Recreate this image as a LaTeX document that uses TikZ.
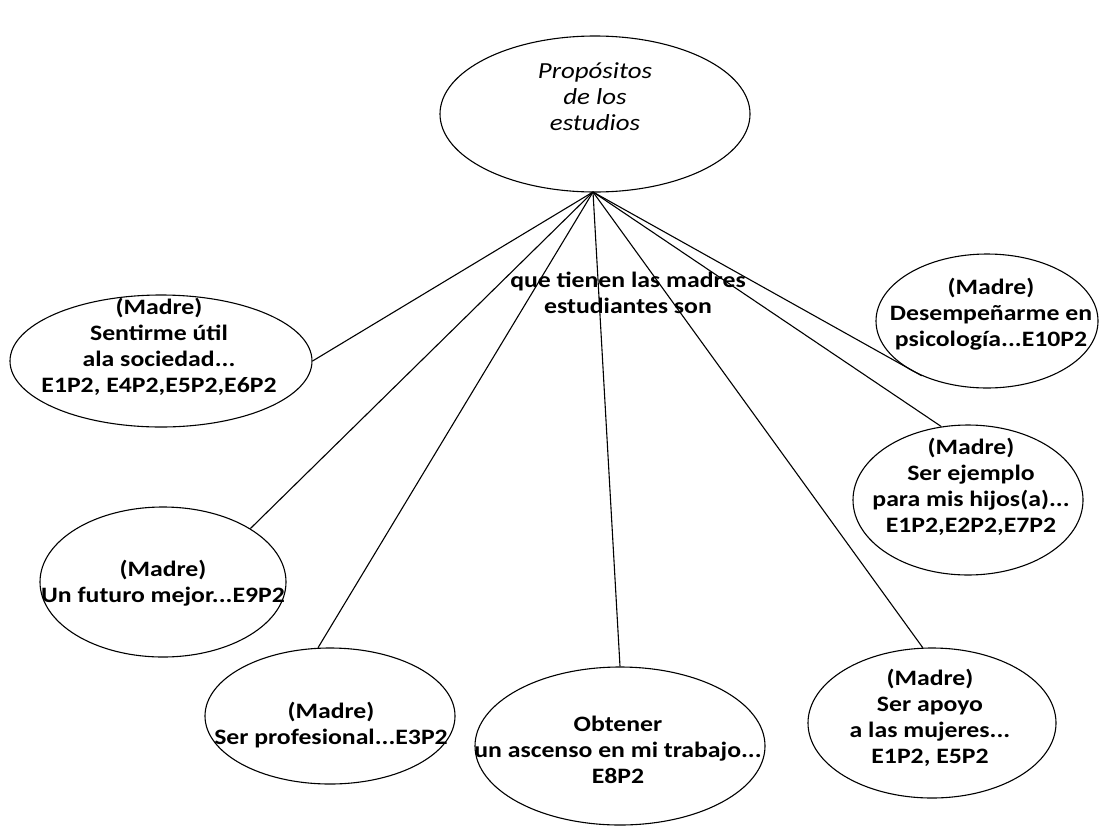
\documentclass[tikz,border=0pt]{standalone}
\usepackage{fontspec}
\setmainfont{Carlito}[FakeStretch=1.17]
\usetikzlibrary{shapes.geometric}
\begin{document}
\begin{tikzpicture}[x=1pt,y=-1pt,
  oval/.style={draw,ellipse,line width=1.1pt,inner sep=0pt},
  txt/.style={inner sep=0pt,align=center,font=\fontsize{22}{26}\selectfont\bfseries},
  conn/.style={line width=1.1pt}]
\useasboundingbox (0,0) rectangle (1099,830);
\node[oval,minimum width=310,minimum height=156] (top) at (595,114) {};
\node[txt,font=\fontsize{23}{26}\selectfont\itshape] (topt) at (595,97) {Propósitos\\de los\\estudios};
\coordinate (hub) at (593,192);
\node[oval,minimum width=302,minimum height=132] (n1) at (161,361) {};
\node[txt] (t1) at (159,347) {(Madre)\\Sentirme útil\\ala sociedad...\\E1P2, E4P2,E5P2,E6P2};
\node[oval,minimum width=222,minimum height=134] (n2) at (987,321) {};
\node[txt] (t2) at (991,314) {(Madre)\\Desempeñarme en\\psicología...E10P2};
\node[oval,minimum width=230,minimum height=150] (n3) at (968,500) {};
\node[txt] (t3) at (971,487) {(Madre)\\Ser ejemplo\\para mis hijos(a)...\\E1P2,E2P2,E7P2};
\node[oval,minimum width=246,minimum height=150] (n4) at (163,582) {};
\node[txt] (t4) at (163,583) {(Madre)\\Un futuro mejor...E9P2};
\node[oval,minimum width=250,minimum height=136] (n5) at (330,716) {};
\node[txt] (t5) at (331,725) {(Madre)\\Ser profesional...E3P2};
\node[oval,minimum width=290,minimum height=158] (n6) at (620,746) {};
\node[txt] (t6) at (618,750) {Obtener\\un ascenso en mi trabajo...\\E8P2};
\node[oval,minimum width=248,minimum height=150] (n7) at (932,723) {};
\node[txt] (t7) at (930,718) {(Madre)\\Ser apoyo\\a las mujeres...\\E1P2, E5P2};
\node[txt] (lbl) at (628,293) {que tienen las madres\\estudiantes son};
\draw[conn] (hub) -- (n1.east);
\draw[conn] (hub) -- (n4.north east);
\draw[conn] (hub) -- (n5.100);
\draw[conn] (hub) -- (n6.north);
\draw[conn] (hub) -- (n7.97);
\draw[conn] (hub) -- (n3.110);
\draw[conn] (hub) -- (n2.220);
\end{tikzpicture}
\end{document}
